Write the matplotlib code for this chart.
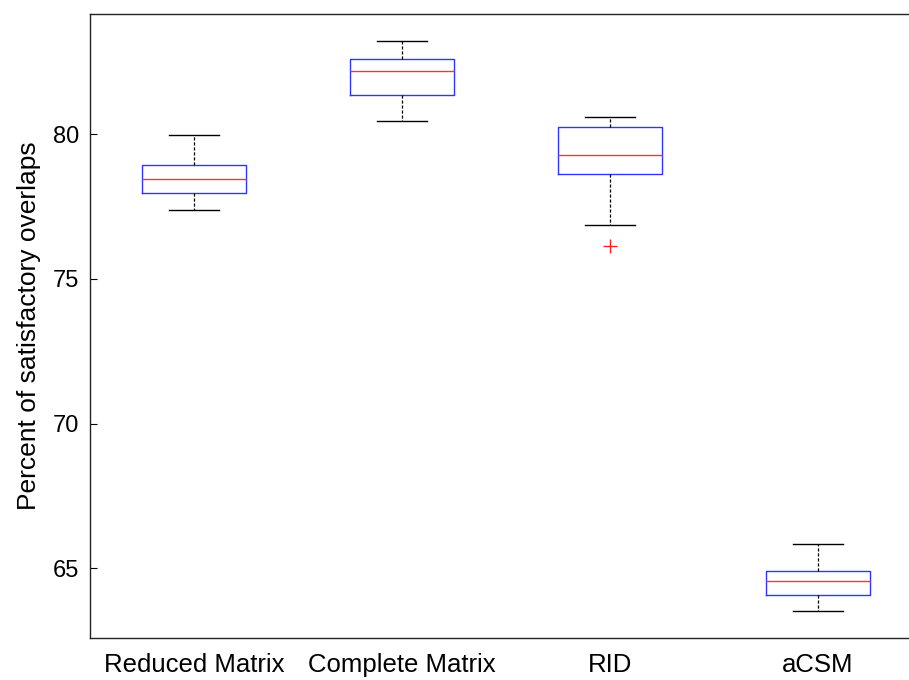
import matplotlib
matplotlib.use("Agg")
import matplotlib.pyplot as plt

plt.rcParams['font.family'] = ['Liberation Sans', 'DejaVu Sans']

# values
methods = ['Reduced Matrix', 'Complete Matrix', 'RID', 'aCSM']
whisker_low = [77.38, 80.46, 76.87, 63.53]
q1 = [77.98, 81.36, 78.63, 64.07]
medians = [78.44, 82.19, 79.28, 64.57]
q3 = [78.94, 82.60, 80.24, 64.92]
whisker_high = [79.97, 83.22, 80.61, 65.84]
outliers = [[], [], [76.15], []]

stats = []
for i in range(len(methods)):
    stats.append({
        'label': methods[i],
        'whislo': whisker_low[i],
        'q1': q1[i],
        'med': medians[i],
        'q3': q3[i],
        'whishi': whisker_high[i],
        'fliers': outliers[i],
    })

fig = plt.figure(figsize=(9.09, 6.8), dpi=100)
# axes runs a little past the right edge, like the cropped original
ax = fig.add_axes([90 / 909, 42 / 680, 832 / 909, 624 / 680])

ax.bxp(stats, positions=[1, 2, 3, 4], widths=0.5,
       boxprops=dict(color='#3333ff', linewidth=1.0),
       medianprops=dict(color='#ff3333', linewidth=1.0),
       whiskerprops=dict(color='black', linewidth=0.9, linestyle=(0, (2.5, 1.5))),
       capprops=dict(color='black', linewidth=1.0),
       flierprops=dict(marker='+', markeredgecolor='#ff2222', markersize=10,
                       markeredgewidth=1.0, linestyle='none'),
       capwidths=0.24)

ax.set_xlim(0.5, 4.5)
ax.set_ylim(62.59, 84.16)
ax.set_yticks([65, 70, 75, 80])
ax.set_xticks([1, 2, 3, 4])
ax.set_xticklabels(methods)
ax.tick_params(axis='y', direction='in', length=5, width=0.8, pad=8,
               labelsize=17, right=True)
ax.tick_params(axis='x', length=0, pad=11, labelsize=18.5)
ax.set_ylabel('Percent of satisfactory overlaps', fontsize=19, labelpad=8)

for s in ax.spines.values():
    s.set_linewidth(1.0)
    s.set_color('#222222')

fig.savefig('out.png', dpi=100)
